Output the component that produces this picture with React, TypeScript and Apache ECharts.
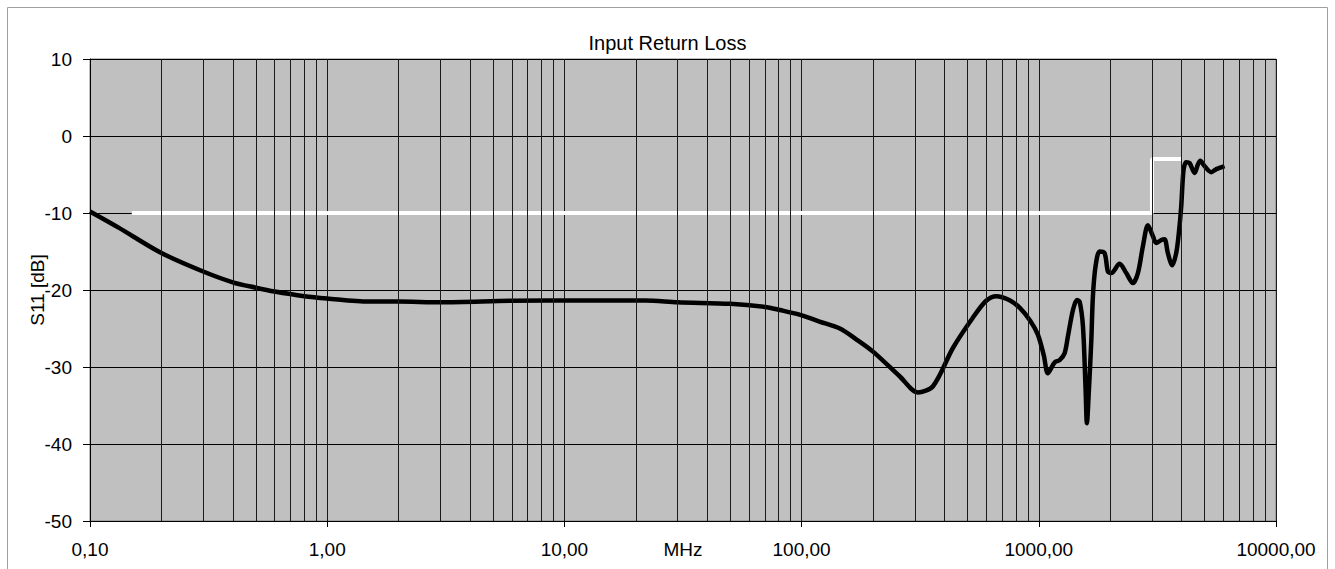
import React, { useEffect, useRef } from "react";
import * as echarts from "echarts";

const TITLE = "Input Return Loss";
const X_NAME = "MHz";
const Y_NAME = "S11 [dB]";

// S11 measurement: frequency in MHz
const freqMHz = [
  0.1, 0.132, 0.2, 0.3, 0.4, 0.5, 0.6, 0.8, 1.0, 1.5, 2.0, 3.0, 6.0, 12, 22, 30, 50, 70, 81, 98,
  119, 145, 170, 200, 259, 309, 358, 435, 527, 600, 662, 750, 830, 920, 991, 1050, 1092, 1166, 1224,
  1285, 1327, 1393, 1448, 1486, 1535, 1575, 1595, 1627, 1665, 1691, 1735, 1804, 1894, 1956, 2021,
  2190, 2337, 2493, 2617, 2748, 2884, 3027, 3127, 3283, 3390, 3500, 3651, 3796, 3894, 3986, 4076,
  4184, 4320, 4536, 4685, 4795, 4996, 5333, 5600, 6068,
];
// S11 measurement: return loss in dB
const s11dB = [
  -9.8, -11.9, -15.2, -17.6, -19.0, -19.7, -20.2, -20.8, -21.1, -21.5, -21.5, -21.6, -21.4, -21.35,
  -21.35, -21.6, -21.8, -22.2, -22.6, -23.2, -24.1, -25.0, -26.4, -28.0, -31.2, -33.3, -32.5, -27.5,
  -23.6, -21.4, -20.8, -21.3, -22.3, -24.0, -25.8, -28.5, -30.8, -29.4, -29.1, -28.2, -26.0, -22.6,
  -21.3, -21.5, -24.7, -32.9, -37.3, -32.9, -26.5, -20.8, -16.9, -15.0, -15.2, -17.6, -17.8, -16.6,
  -17.8, -19.1, -17.8, -14.3, -11.6, -13.0, -13.9, -13.5, -13.4, -15.2, -16.8, -15.2, -12.6, -9.1,
  -4.4, -3.4, -3.5, -4.8, -3.7, -3.2, -3.9, -4.7, -4.3, -3.9,
];

// Specification limit (white line)
const limitFreqMHz = [0.15, 3000, 3000, 4000];
const limitDB = [-10, -10, -3, -3];

// Axis ranges
const X_MIN = 0.1;
const X_MAX = 10000;
const Y_MIN = -50;
const Y_MAX = 10;
const Y_INTERVAL = 10;

// Minor (log) grid multipliers within each decade
const decadeStarts = [0.1, 1, 10, 100, 1000];
const minorMultipliers = [2, 3, 4, 5, 6, 7, 8, 9];

const FONT = "'Liberation Sans', Arial, sans-serif";

export default function App() {
  const ref = useRef<HTMLDivElement>(null);

  useEffect(() => {
    if (!ref.current) return;
    const chart = echarts.init(ref.current, undefined, { renderer: "svg" });

    const curve = freqMHz.map((f, i) => [f, s11dB[i]]);
    const limit = limitFreqMHz.map((f, i) => [f, limitDB[i]]);
    const minorLines: { xAxis: number }[] = [];
    decadeStarts.forEach((d) =>
      minorMultipliers.forEach((m) => minorLines.push({ xAxis: +(d * m).toPrecision(6) }))
    );

    chart.setOption({
      animation: false,
      backgroundColor: "#ffffff",
      textStyle: { fontFamily: FONT },
      title: {
        text: TITLE,
        left: "center",
        top: 28,
        textStyle: { fontFamily: FONT, fontSize: 20, fontWeight: "normal", color: "#000" },
      },
      graphic: [
        {
          type: "rect",
          shape: { x: 7.5, y: 7.5, width: 1320, height: 600 },
          style: { fill: "none", stroke: "#a0a0a0", lineWidth: 1 },
          silent: true,
          z: -10,
        },
      ],
      grid: {
        left: 90,
        top: 59,
        width: 1186,
        height: 462,
        outerBoundsMode: "none",
        containLabel: false,
        show: true,
        backgroundColor: "#c0c0c0",
        borderColor: "#808080",
        borderWidth: 1,
      },
      xAxis: {
        type: "log",
        logBase: 10,
        min: X_MIN,
        max: X_MAX,
        name: X_NAME,
        nameLocation: "middle",
        nameGap: 19,
        nameMoveOverlap: false,
        nameTextStyle: { fontFamily: FONT, fontSize: 19, color: "#000", verticalAlign: "top" },
        axisLine: { show: true, onZero: false, lineStyle: { color: "#000", width: 1 } },
        axisTick: { show: true, length: 6, lineStyle: { color: "#000" } },
        axisLabel: {
          fontFamily: FONT,
          fontSize: 19,
          color: "#000",
          margin: 19,
          formatter: (v: number) => v.toFixed(2).replace(".", ","),
        },
        splitLine: { show: true, lineStyle: { color: "#1a1a1a", width: 1 } },
      },
      yAxis: {
        type: "value",
        min: Y_MIN,
        max: Y_MAX,
        interval: Y_INTERVAL,
        name: Y_NAME,
        nameLocation: "middle",
        nameGap: 43,
        nameMoveOverlap: false,
        nameTextStyle: { fontFamily: FONT, fontSize: 19, color: "#000" },
        axisLine: { show: true, lineStyle: { color: "#000", width: 1 } },
        axisTick: { show: true, length: 7, lineStyle: { color: "#000" } },
        axisLabel: { fontFamily: FONT, fontSize: 19, color: "#000", margin: 18 },
        splitLine: { show: true, lineStyle: { color: "#000", width: 1 } },
      },
      series: [
        {
          name: "minorGrid",
          type: "line",
          data: [],
          silent: true,
          z: 1,
          markLine: {
            silent: true,
            symbol: ["none", "none"],
            label: { show: false },
            lineStyle: { color: "#1a1a1a", width: 1, type: "solid" },
            emphasis: { disabled: true },
            animation: false,
            data: minorLines,
          },
        },
        {
          name: "limit",
          type: "line",
          data: limit,
          showSymbol: false,
          symbol: "none",
          silent: true,
          z: 3,
          lineStyle: { color: "#ffffff", width: 4 },
        },
        {
          name: "S11",
          type: "line",
          data: curve,
          showSymbol: false,
          symbol: "none",
          smooth: 0.3,
          silent: true,
          z: 4,
          lineStyle: { color: "#000000", width: 4.5 },
        },
      ],
    });

    return () => chart.dispose();
  }, []);

  return (
    <div
      ref={ref}
      style={{ position: "absolute", left: 0, top: 0, width: 1335, height: 569, background: "#fff" }}
    />
  );
}
